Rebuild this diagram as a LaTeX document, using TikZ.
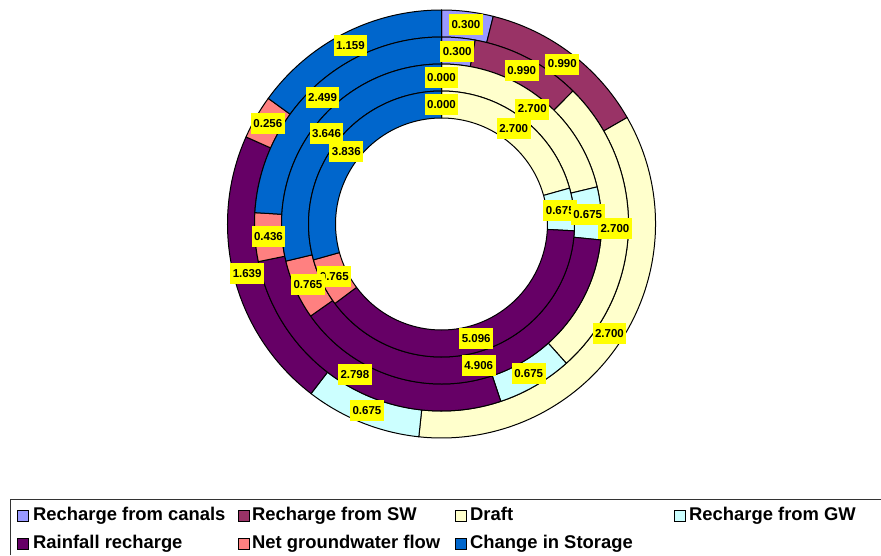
\documentclass[tikz,border=0pt]{standalone}
\usepackage{fontspec}
\setmainfont{Liberation Sans}
\definecolor{canal}{HTML}{9999FF}
\definecolor{sw}{HTML}{993366}
\definecolor{draft}{HTML}{FFFFCC}
\definecolor{gw}{HTML}{CCFFFF}
\definecolor{rain}{HTML}{660066}
\definecolor{netgw}{HTML}{FF8080}
\definecolor{stor}{HTML}{0066CC}
\definecolor{lblyellow}{HTML}{FFFF00}
\tikzset{
  seg/.style={draw=black, line width=1pt, line join=round},
  lbl/.style={fill=lblyellow, font=\bfseries\fontsize{11.5}{12}\selectfont, inner xsep=2.5pt, inner ysep=0pt, minimum height=21pt},
  legtxt/.style={anchor=base west, font=\bfseries\fontsize{18.4}{20}\selectfont, inner sep=0pt},
  legsq/.style={draw=black, line width=0.8pt, minimum size=11pt, inner sep=0pt},
}
\newcommand\donutring[4]{%
  \xdef\cumA{0}%
  \foreach \v/\c in {#4} {%
    \pgfmathsetmacro\aA{90-\cumA*360/#3}%
    \pgfmathsetmacro\aB{90-(\cumA+\v)*360/#3}%
    \filldraw[seg, fill=\c] (\aA:#2pt) arc[start angle=\aA, end angle=\aB, radius=#2pt] -- (\aB:#1pt) arc[start angle=\aB, end angle=\aA, radius=#1pt] -- cycle;
    \pgfmathsetmacro\newcum{\cumA+\v}%
    \xdef\cumA{\newcum}%
  }%
}
\newcommand\donutlabels[4]{%
  \xdef\cumA{0}%
  \foreach \v [count=\i] in {#4} {%
    \pgfmathsetmacro\am{90-(\cumA+\v/2)*360/#3}%
    \node[lbl] (#1-\i) at (\am:#2pt) {\v};
    \pgfmathsetmacro\newcum{\cumA+\v}%
    \xdef\cumA{\newcum}%
  }%
}
\begin{document}
\begin{tikzpicture}[x=1pt,y=1pt]
\useasboundingbox (0,0) rectangle (881,555);
\begin{scope}[shift={(441.5,331)}]
  \donutring{187}{214}{7.719}{0.300/canal,0.990/sw,2.700/draft,0.675/gw,1.639/rain,0.256/netgw,1.159/stor}
  \donutring{160}{187}{10.398}{0.300/canal,0.990/sw,2.700/draft,0.675/gw,2.798/rain,0.436/netgw,2.499/stor}
  \donutring{133}{160}{12.692}{2.700/draft,0.675/gw,4.906/rain,0.765/netgw,3.646/stor}
  \donutring{106}{133}{13.072}{2.700/draft,0.675/gw,5.096/rain,0.765/netgw,3.836/stor}
  \donutlabels{rfour}{119.5}{13.072}{0.000,2.700,0.675,5.096,0.765,3.836}
  \donutlabels{rthree}{146.5}{12.692}{0.000,2.700,0.675,4.906,0.765,3.646}
  \donutlabels{rtwo}{173.5}{10.398}{0.300,0.990,2.700,0.675,2.798,0.436,2.499}
  \donutlabels{rone}{200.5}{7.719}{0.300,0.990,2.700,0.675,1.639,0.256,1.159}
\end{scope}
% legend frame
\coordinate (lgA) at (10,0);
\coordinate (lgB) at (10,56);
\coordinate (lgC) at (881,56);
\draw[line width=1pt, black!80] (lgA) -- (lgB) -- (lgC);
% legend entries
\node[legsq, fill=canal] (sq1) at (22.5,39.5) {};
\node[legtxt] (lg1) at (33,35) {Recharge from canals};
\node[legsq, fill=sw] (sq2) at (244,39.5) {};
\node[legtxt] (lg2) at (252,35) {Recharge from SW};
\node[legsq, fill=draft] (sq3) at (461,39.5) {};
\node[legtxt] (lg3) at (470,35) {Draft};
\node[legsq, fill=gw] (sq4) at (680,39.5) {};
\node[legtxt] (lg4) at (689,35) {Recharge from GW};
\node[legsq, fill=rain] (sq5) at (22.5,11.5) {};
\node[legtxt] (lg5) at (33,7) {Rainfall recharge};
\node[legsq, fill=netgw] (sq6) at (244,11.5) {};
\node[legtxt] (lg6) at (252,7) {Net groundwater flow};
\node[legsq, fill=stor] (sq7) at (461,11.5) {};
\node[legtxt] (lg7) at (470,7) {Change in Storage};
\end{tikzpicture}
\end{document}
